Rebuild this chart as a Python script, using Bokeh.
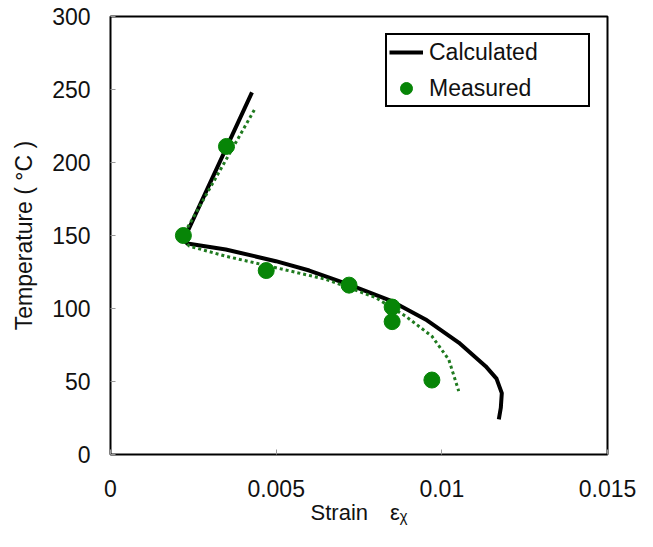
from bokeh.plotting import figure
from bokeh.models import Range1d, FixedTicker, NumeralTickFormatter, Legend, LegendItem
from bokeh.embed import file_html
from bokeh.resources import INLINE

# Calculated curve (black solid)
calc_strain = [0.00427, 0.00221, 0.00232, 0.00348, 0.00499, 0.0060, 0.0072, 0.00849,
               0.00951, 0.01051, 0.01132, 0.01165, 0.01181, 0.01178, 0.01172]
calc_temp = [248, 147, 144.5, 140.4, 132.4, 126, 116.4, 105, 92.5, 76.7, 60.5, 52, 42, 32, 24]

# Fitted measured trend (green dotted)
fit_strain = [0.00434, 0.00214, 0.00238, 0.00348, 0.00479, 0.0065, 0.0080, 0.00891,
              0.0097, 0.01021, 0.01051]
fit_temp = [236, 148, 142.7, 135.8, 129, 120, 107.5, 94.7, 81, 65, 43.4]

# Measured points
meas_strain = [0.0022, 0.0035, 0.0047, 0.0072, 0.0085, 0.0085, 0.0097]
meas_temp = [150, 211, 126, 116, 101, 91, 51]

x_ticks = [0, 0.005, 0.01, 0.015]
y_ticks = [0, 50, 100, 150, 200, 250, 300]

FONT = "Liberation Sans"

p = figure(width=637, height=531, output_backend="svg", toolbar_location=None,
           x_range=Range1d(0, 0.015), y_range=Range1d(0, 300),
           min_border_left=110, min_border_right=30, min_border_top=16, min_border_bottom=77)
p.background_fill_color = "white"
p.border_fill_color = "white"
p.grid.visible = False
p.outline_line_color = "black"
p.outline_line_width = 2

for ax in (p.xaxis[0], p.yaxis[0]):
    ax.axis_line_color = None
    ax.major_tick_in = 5
    ax.major_tick_out = 0
    ax.minor_tick_in = 0
    ax.minor_tick_out = 0
    ax.major_tick_line_color = "#999999"
    ax.major_tick_line_width = 1
    ax.major_label_text_font = FONT
    ax.major_label_text_font_size = "23px"
    ax.major_label_text_color = "#111111"
    ax.axis_label_text_font = FONT
    ax.axis_label_text_font_size = "23px"
    ax.axis_label_text_font_style = "normal"
    ax.axis_label_text_color = "#111111"

p.xaxis.ticker = FixedTicker(ticks=x_ticks)
p.xaxis.formatter = NumeralTickFormatter(format="0.[000]")
p.xaxis.major_label_standoff = 25
p.xaxis.axis_label = "Strain\u2003\u03b5\u1d6a"
p.xaxis.axis_label_text_font_size = "22px"
p.xaxis.axis_label_standoff = 0

p.yaxis.ticker = FixedTicker(ticks=y_ticks)
p.yaxis.major_label_standoff = 20
p.yaxis.axis_label = "Temperature ( °C )"
p.yaxis.axis_label_standoff = 12

calc = p.line(calc_strain, calc_temp, line_color="black", line_width=4, line_join="round")
p.line(fit_strain, fit_temp, line_color="#1f7a1f", line_width=3, line_dash="3 3")
meas = p.scatter(meas_strain, meas_temp, size=16, fill_color="#078507", line_color="#078507")

legend = Legend(items=[LegendItem(label="Calculated", renderers=[calc]),
                       LegendItem(label="Measured", renderers=[meas])],
                location="top_right")
legend.margin = 17
legend.padding = 2
legend.spacing = 6
legend.glyph_width = 34
legend.glyph_height = 30
legend.label_standoff = 6
legend.label_width = 157
legend.label_text_font = FONT
legend.label_text_font_size = "23px"
legend.label_text_color = "#111111"
legend.border_line_color = "black"
legend.border_line_width = 2
legend.border_line_alpha = 1
legend.background_fill_color = "white"
legend.background_fill_alpha = 1
p.add_layout(legend)

open("out.html", "w").write(file_html(p, INLINE))
